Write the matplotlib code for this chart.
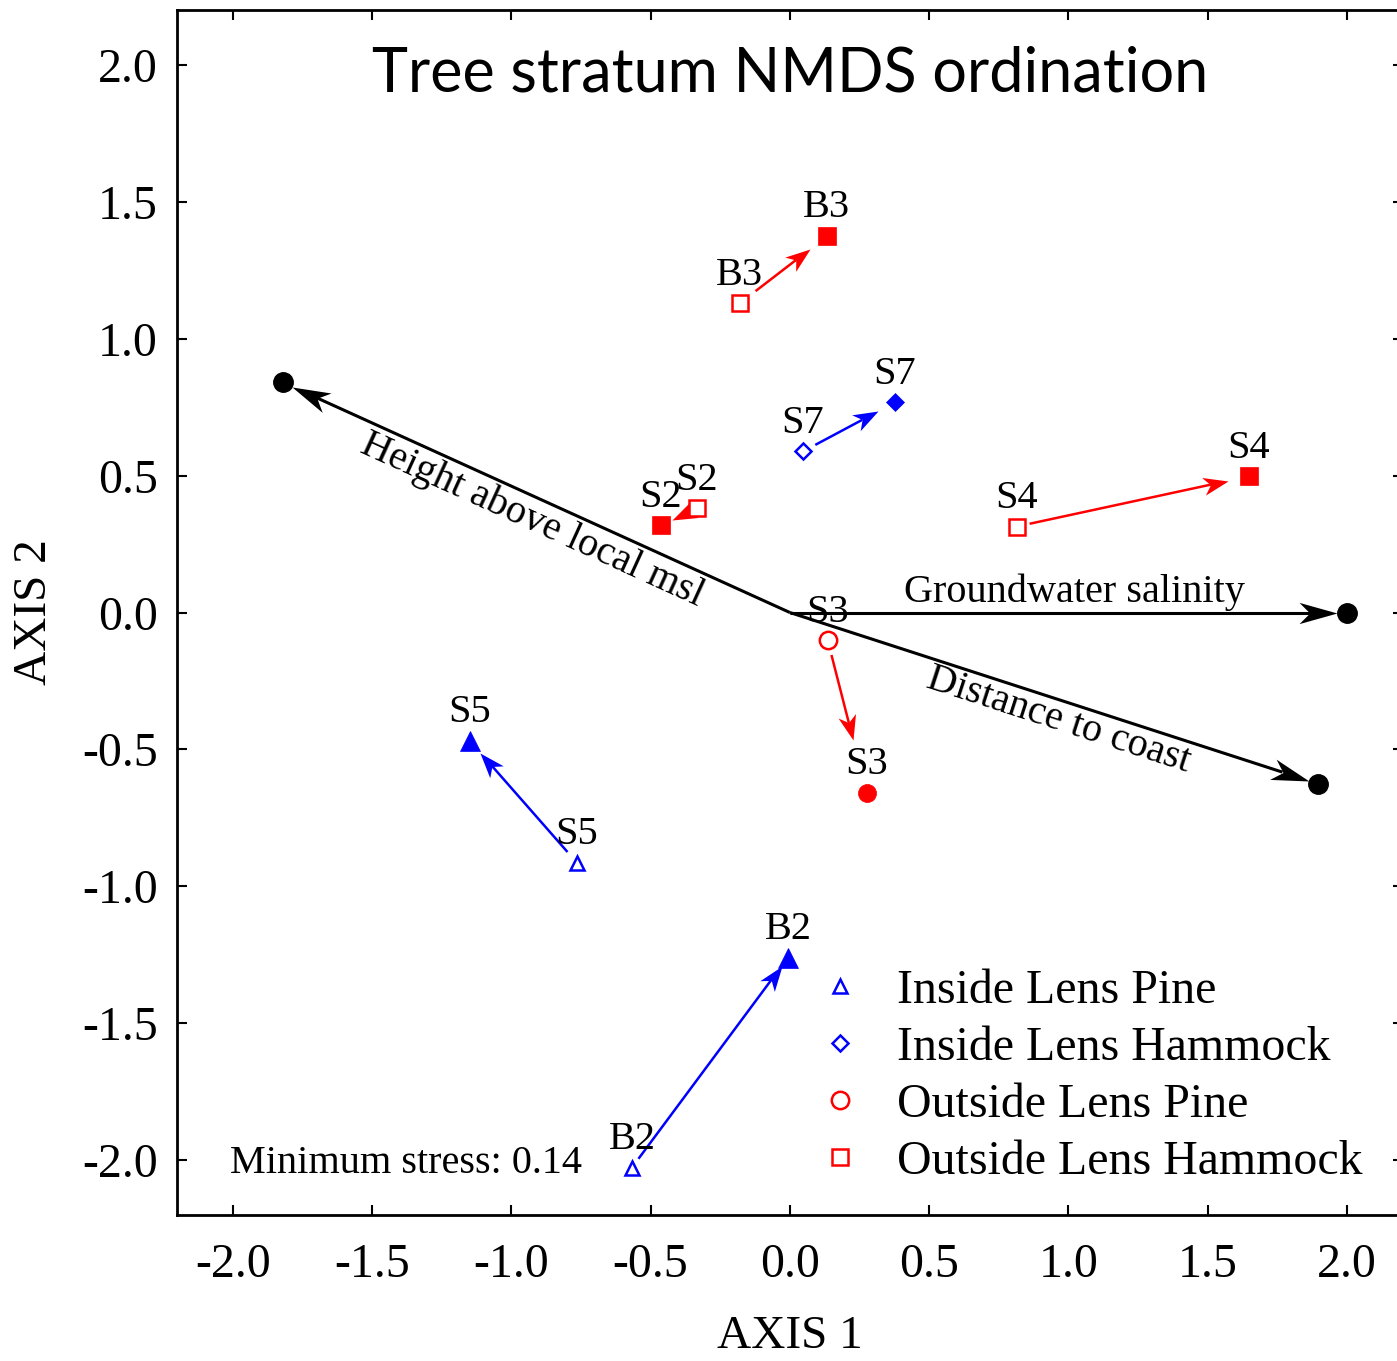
import numpy as np
import matplotlib
matplotlib.use("Agg")
from matplotlib import pyplot as plt
from matplotlib.markers import MarkerStyle
from matplotlib.path import Path
from matplotlib.transforms import Affine2D

# sites: open marker = first survey, filled marker = second survey
sites = ["B3", "S7", "S2", "S4", "S3", "S5", "B2"]
groups = ["OLH", "ILH", "OLH", "OLH", "OLP", "ILP", "ILP"]
x_open = [-0.18, 0.047, -0.334, 0.815, 0.136, -0.765, -0.567]
y_open = [1.129, 0.588, 0.380, 0.314, -0.102, -0.913, -2.027]
x_filled = [0.133, 0.377, -0.463, 1.648, 0.276, -1.149, -0.007]
y_filled = [1.374, 0.767, 0.318, 0.497, -0.658, -0.468, -1.26]

# environmental vectors
vec_names = ["Height above local msl", "Groundwater salinity", "Distance to coast"]
vec_x = [-1.820, 2.0, 1.896]
vec_y = [0.840, 0.0, -0.625]

group_names = {
    "ILP": "Inside Lens Pine",
    "ILH": "Inside Lens Hammock",
    "OLP": "Outside Lens Pine",
    "OLH": "Outside Lens Hammock",
}
group_style = {
    "ILP": ("^", "blue", 10.5, 14),
    "ILH": ("D", "blue", 8, 9.5),
    "OLP": ("o", "red", 12.5, 13),
    "OLH": ("s", "red", 12, 13.5),
}
# gap (px) left between arrow and start / end marker
gap_start = [20, 14, 10, 13, 15, 14, 11]
gap_end = [21, 19, 12, 21, 54, 16, 10]

plt.rcParams["font.family"] = ["Liberation Serif", "DejaVu Serif"]
plt.rcParams["axes.unicode_minus"] = False

W, H = 1397, 1361
fig = plt.figure(figsize=(W / 100, H / 100), dpi=100)
ax_l, ax_r, ax_t, ax_b = 177, 1402.7, 10, 1215
ax = fig.add_axes([ax_l / W, 1 - ax_b / H, (ax_r - ax_l) / W, (ax_b - ax_t) / H])
ax.set_xlim(-2.2, 2.2)
ax.set_ylim(-2.2, 2.2)

ticks = np.arange(-2.0, 2.01, 0.5)
ax.set_xticks(ticks)
ax.set_yticks(ticks)
ax.set_xticklabels([f"{t:.1f}" for t in ticks])
ax.set_yticklabels([f"{t:.1f}" for t in ticks])
ax.tick_params(direction="in", length=7, width=1.5, labelsize=34.5,
               top=True, right=True)
ax.tick_params(axis="x", pad=20)
ax.tick_params(axis="y", pad=14)
for sp in ax.spines.values():
    sp.set_linewidth(2)

PX = 72 / 100  # pixels -> points


def head_marker(angle, hw, notch):
    verts = [(0, 0), (-1, hw), (-notch, 0), (-1, -hw), (0, 0)]
    codes = [Path.MOVETO, Path.LINETO, Path.LINETO, Path.LINETO, Path.CLOSEPOLY]
    return MarkerStyle(Path(verts, codes), transform=Affine2D().rotate(angle))


def draw_arrow(x0, y0, x1, y1, color, lw, sa, sb, hlen, hw, notch):
    p0 = ax.transData.transform((x0, y0))
    p1 = ax.transData.transform((x1, y1))
    d = p1 - p0
    u = d / np.hypot(*d)
    a = p0 + u * sa
    b = p1 - u * sb
    c = b - u * hlen * notch
    inv = ax.transData.inverted()
    a, b, c = inv.transform(a), inv.transform(b), inv.transform(c)
    ax.plot([a[0], c[0]], [a[1], c[1]], color=color, lw=lw,
            solid_capstyle="butt", zorder=3)
    ang = np.arctan2(d[1], d[0])
    ax.plot(b[0], b[1], marker=head_marker(ang, hw, notch),
            ms=2 * hlen * PX, color=color, mew=0, ls="none", zorder=4)


# environmental vectors
for vx, vy in zip(vec_x, vec_y):
    draw_arrow(0, 0, vx, vy, "black", 2.2, 0, 10, 38, 0.28, 0.72)
    ax.plot(vx, vy, "o", color="black", ms=14, zorder=5)

ax.text(-0.926, 0.336, vec_names[0], fontsize=29, rotation=-24.5,
        rotation_mode="anchor", ha="center", va="center")
ax.text(1.023, 0.075, vec_names[1], fontsize=29, ha="center", va="center")
ax.text(0.966, -0.395, vec_names[2], fontsize=29, rotation=-18,
        rotation_mode="anchor", ha="center", va="center")

# site shifts
for i, s in enumerate(sites):
    m, col, ms_open, ms_fill = group_style[groups[i]]
    draw_arrow(x_open[i], y_open[i], x_filled[i], y_filled[i], col, 1.8,
               gap_start[i], gap_end[i], 25, 0.36, 0.72)
    ax.plot(x_open[i], y_open[i], m, ms=ms_open, mfc="white", mec=col,
            mew=1.8, zorder=6)
    ax.plot(x_filled[i], y_filled[i], m, ms=ms_fill, color=col, mew=0.5,
            zorder=6)
    for xx, yy in ((x_open[i], y_open[i]), (x_filled[i], y_filled[i])):
        ax.annotate(s, (xx, yy), xytext=(0, 13.5), textcoords="offset points",
                    fontsize=29, ha="center", va="baseline", zorder=7)

# legend
handles = []
for g in ["ILP", "ILH", "OLP", "OLH"]:
    m, col, ms_open, _ = group_style[g]
    h, = ax.plot([], [], m, ms=ms_open, mfc="white", mec=col, mew=1.8,
                 label=group_names[g])
    handles.append(h)
ax.legend(handles=handles, loc="upper left", bbox_to_anchor=(0.525, 0.2042),
          frameon=False, fontsize=34.5, borderpad=0, borderaxespad=0,
          handlelength=0.8, handletextpad=0.8, labelspacing=0.27)

ax.text(-2.011, -2.046, "Minimum stress: 0.14", fontsize=29, ha="left",
        va="baseline")

ax.text(0.5, 0.947, "Tree stratum NMDS ordination", transform=ax.transAxes,
        fontsize=44, family=["Lato", "DejaVu Sans"], ha="center", va="center")

fig.text(790 / W, 1 - 1337 / H, "AXIS 1", fontsize=34, ha="center", va="center")
fig.text(35 / W, 1 - 612 / H, "AXIS 2", fontsize=34, ha="center", va="center",
         rotation=90)

fig.savefig("out.png", dpi=100)
